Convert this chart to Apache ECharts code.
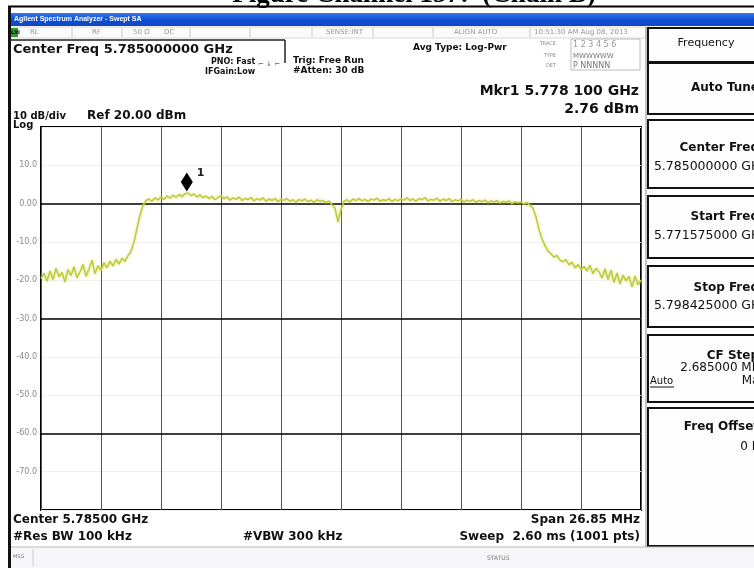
<!DOCTYPE html>
<html>
<head>
<meta charset="utf-8">
<script src="https://cdn.jsdelivr.net/npm/echarts@6/dist/echarts.min.js"></script>
<style>
html,body{margin:0;padding:0;background:#fff;}
#chart{width:754px;height:568px;}
</style>
</head>
<body>
<div id="chart"></div>
<script>
// ---- instrument settings ----
const centerMHz = 5785.0;
const spanMHz = 26.85;
const refLevel = 20;
const bottomLevel = -80;
const markerFreqMHz = 5778.1;
const markerDbm = 2.76;

// ---- y tick labels (dBm) ----
const yTickValues = [10, 0, -10, -20, -30, -40, -50, -60, -70];
const yTickLabels = ['10.0', '0.00', '-10.0', '-20.0', '-30.0', '-40.0', '-50.0', '-60.0', '-70.0'];
const darkGridLevels = [0, -30, -60];

// ---- trace values (dBm), left to right ----
const leftNoise = [-19.5, -18.2, -20.3, -17.6, -19.8, -16.9, -19.1, -18.0, -20.5, -17.2,
                   -18.8, -16.5, -19.4, -17.8, -15.9, -19.0, -17.1, -14.8, -18.3, -16.2,
                   -17.5, -15.4, -16.8, -15.0, -16.3, -14.6, -15.8, -14.2, -15.1, -13.6];
const riseEdge = [-12.5, -10.0, -6.5, -3.0, -0.5, 0.8];
const flatLow = [1.2, 0.6, 1.5, 0.9, 1.8, 1.1, 2.0, 1.4, 2.2, 1.6,
                 2.4, 1.8, 2.6, 2.76, 2.1, 2.5, 1.7, 2.3, 1.5, 2.0,
                 1.3, 1.9, 1.0, 1.6, 2.1, 1.2, 1.8, 0.9, 1.5, 1.1,
                 1.7, 0.8, 1.4, 1.0, 1.6, 0.7, 1.3, 0.9, 1.5, 0.6,
                 1.2, 0.8, 1.4, 0.5, 1.1, 0.9, 1.3, 0.6, 1.0, 0.4,
                 1.1, 0.7, 1.2, 0.5, 0.9, 0.3, 1.0, 0.6, 0.8, 0.2,
                 0.7, -0.3];
const centerNotch = [-1.2, -4.8, -1.5];
const flatHigh = [0.6, 1.0, 0.4, 1.2, 0.8, 1.3, 0.7, 1.1, 0.5, 1.2,
                  0.9, 1.4, 0.6, 1.0, 0.8, 1.3, 0.5, 1.1, 0.7, 1.2,
                  0.9, 1.5, 0.8, 1.2, 0.6, 1.3, 1.0, 1.6, 0.7, 1.1,
                  0.9, 1.4, 0.6, 1.2, 0.8, 1.3, 0.5, 1.0, 0.7, 1.1,
                  0.4, 0.9, 0.6, 1.0, 0.3, 0.8, 0.5, 0.9, 0.2, 0.7,
                  0.4, 0.8, 0.1, 0.6, 0.3, 0.7, 0.0, 0.5, 0.2, 0.4,
                  -0.1, 0.3, -0.4];
const fallEdge = [-1.2, -3.5, -6.8, -9.2, -11.0, -12.4, -13.1, -14.0, -13.5, -14.8, -15.2, -14.6];
const rightNoise = [-16.0, -15.3, -16.8, -15.9, -17.2, -16.4, -17.6, -16.1, -18.3, -16.9,
                    -17.8, -19.5, -17.0, -19.8, -17.4, -20.6, -18.1, -21.0, -18.7, -20.2,
                    -19.0, -21.8, -18.9, -21.2, -20.0];

const traceDbm = [].concat(leftNoise, riseEdge, flatLow, centerNotch, flatHigh, fallEdge, rightNoise);
const nPts = traceDbm.length;
// x = offset from center frequency in MHz (sweep points evenly spread over the span)
const traceData = traceDbm.map((v, i) => [-spanMHz / 2 + i * spanMHz / (nPts - 1), v]);

const FONT = '"DejaVu Sans"';
function txt(text, x, y, size, opts) {
  opts = opts || {};
  return {
    type: 'text', silent: true, z: 100,
    style: {
      text: text, x: x, y: y,
      font: (opts.weight || 'bold') + ' ' + size + 'px ' + (opts.family || FONT),
      fill: opts.color || '#111',
      align: opts.align || 'left',
      verticalAlign: 'middle'
    }
  };
}
function rect(x, y, w, h, fill, stroke, lw) {
  return { type: 'rect', silent: true, z: 90, shape: { x: x, y: y, width: w, height: h },
           style: { fill: fill || 'none', stroke: stroke || 'none', lineWidth: lw || 1 } };
}
function line(x1, y1, x2, y2, stroke, lw) {
  return { type: 'line', silent: true, z: 95, shape: { x1: x1, y1: y1, x2: x2, y2: y2 },
           style: { stroke: stroke, lineWidth: lw || 1 } };
}

const chart = echarts.init(document.getElementById('chart'), null, { renderer: 'canvas' });

const graphics = [];
// document caption (cut off at the top)
graphics.push(txt('Figure Channel 157:  (Chain B)', 414, -5, 27, { family: '"Liberation Serif"', color: '#000', align: 'center' }));
graphics.push(line(8, 6.5, 754, 6.5, '#000', 2));
graphics.push(line(9.5, 6, 9.5, 568, '#111', 3));
// window title bar
graphics.push({
  type: 'rect', silent: true, z: 90, shape: { x: 11, y: 13, width: 743, height: 13 },
  style: { fill: new echarts.graphic.LinearGradient(0, 0, 0, 1, [
    { offset: 0, color: '#3a78ee' }, { offset: 0.5, color: '#0d4fd6' }, { offset: 1, color: '#1046c0' }]) }
});
graphics.push(txt('Agilent Spectrum Analyzer - Swept SA', 14, 19.5, 7, { family: '"Liberation Sans"', color: '#fff' }));
// status row
graphics.push(rect(11, 27, 635, 11, '#fbfbfb', '#d8d8d8', 1));
graphics.push(rect(11, 28, 7, 9, '#2f9a2f'));
graphics.push(txt('LXI', 11, 32.5, 5, { color: '#000' }));
[72, 122, 190, 250, 312, 373, 433, 530].forEach(x => graphics.push(line(x, 28, x, 37, '#c8c8c8', 1)));
graphics.push(txt('RL', 30, 32.5, 7, { weight: 'normal', color: '#999' }));
graphics.push(txt('RF', 92, 32.5, 7, { weight: 'normal', color: '#999' }));
graphics.push(txt('50 Ω', 133, 32.5, 7, { weight: 'normal', color: '#999' }));
graphics.push(txt('DC', 164, 32.5, 7, { weight: 'normal', color: '#999' }));
graphics.push(txt('SENSE:INT', 326, 32.5, 7, { weight: 'normal', color: '#999' }));
graphics.push(txt('ALIGN AUTO', 454, 32.5, 7, { weight: 'normal', color: '#999' }));
graphics.push(txt('10:51:30 AM Aug 08, 2013', 534, 32.5, 7, { weight: 'normal', color: '#999' }));
// center freq frame
graphics.push(line(10, 40, 285, 40, '#222', 1.5));
graphics.push(line(285, 40, 285, 63, '#222', 1.5));
graphics.push(txt('Center Freq 5.785000000 GHz', 13, 50, 13));
graphics.push(txt('PNO: Fast', 211, 62, 8));
graphics.push(txt('IFGain:Low', 205, 72, 8));
graphics.push(txt('⌐ ↓ ⌐', 258, 64, 7, { weight: 'normal', color: '#666' }));
graphics.push(txt('Trig: Free Run', 293, 61, 9));
graphics.push(txt('#Atten: 30 dB', 293, 71, 9));
graphics.push(txt('Avg Type: Log-Pwr', 413, 48, 9));
graphics.push(txt('TRACE', 556, 44, 5, { weight: 'normal', color: '#888', align: 'right' }));
graphics.push(txt('1 2 3 4 5 6', 573, 45, 8, { weight: 'normal', color: '#999' }));
graphics.push(txt('TYPE', 556, 56, 5, { weight: 'normal', color: '#888', align: 'right' }));
graphics.push(txt('MWWWWW', 573, 56, 7, { weight: 'normal', color: '#777' }));
graphics.push(txt('DET', 556, 66, 5, { weight: 'normal', color: '#888', align: 'right' }));
graphics.push(txt('P NNNNN', 573, 66, 8, { weight: 'normal', color: '#777' }));
graphics.push(rect(571, 39, 69, 31, 'none', '#bbb', 1));
graphics.push(txt('Mkr1 5.778 100 GHz', 639, 91, 14, { align: 'right' }));
graphics.push(txt('2.76 dBm', 639, 109, 14, { align: 'right' }));
graphics.push(txt('10 dB/div', 13, 116, 10));
graphics.push(txt('Ref 20.00 dBm', 87, 116, 12));
graphics.push(txt('Log', 13, 125, 10));
// bottom annotations
graphics.push(txt('Center 5.78500 GHz', 13, 520, 12));
graphics.push(txt('#Res BW 100 kHz', 13, 537, 12));
graphics.push(txt('#VBW 300 kHz', 243, 537, 12));
graphics.push(txt('Span 26.85 MHz', 640, 520, 12, { align: 'right' }));
graphics.push(txt('Sweep  2.60 ms (1001 pts)', 640, 537, 12, { align: 'right' }));
// bottom status bar
graphics.push(rect(11, 547, 743, 21, '#f6f6f8', 'none'));
graphics.push(line(11, 547, 754, 547, '#bbb', 1));
graphics.push(line(33, 549, 33, 566, '#ccc', 1));
graphics.push(txt('MSG', 13, 557, 5, { weight: 'normal', color: '#777' }));
graphics.push(txt('STATUS', 487, 558, 6, { weight: 'normal', color: '#777' }));
// softkey panel
graphics.push(line(646, 27, 646, 547, '#888', 1));
function softkey(y, h) { graphics.push(rect(648, y, 112, h, '#fdfdfd', '#111', 2)); }
softkey(28, 34);
softkey(63, 51);
softkey(120, 68);
softkey(196, 62);
softkey(266, 61);
softkey(335, 67);
softkey(408, 138);
graphics.push(txt('Frequency', 706, 43, 11, { weight: 'normal', align: 'center' }));
graphics.push(txt('Auto Tune', 759, 88, 12, { align: 'right' }));
graphics.push(txt('Center Freq', 759, 148, 12, { align: 'right' }));
graphics.push(txt('5.785000000 GHz', 767, 167, 12.5, { weight: 'normal', align: 'right' }));
graphics.push(txt('Start Freq', 759, 217, 12, { align: 'right' }));
graphics.push(txt('5.771575000 GHz', 767, 236, 12.5, { weight: 'normal', align: 'right' }));
graphics.push(txt('Stop Freq', 759, 288, 12, { align: 'right' }));
graphics.push(txt('5.798425000 GHz', 767, 306, 12.5, { weight: 'normal', align: 'right' }));
graphics.push(txt('CF Step', 759, 356, 12, { align: 'right' }));
graphics.push(txt('2.685000 MHz', 767, 368, 12, { weight: 'normal', align: 'right' }));
graphics.push(txt('Auto', 650, 381, 10, { weight: 'normal' }));
graphics.push(line(650, 387, 674, 387, '#111', 1));
graphics.push(txt('Man', 767, 381, 12, { weight: 'normal', align: 'right' }));
graphics.push(txt('Freq Offset', 759, 427, 12, { align: 'right' }));
graphics.push(txt('0 Hz', 767, 447, 12, { weight: 'normal', align: 'right' }));

const option = {
  animation: false,
  backgroundColor: '#ffffff',
  grid: { left: 41, top: 127, width: 600, height: 383, show: true, backgroundColor: '#ffffff',
          borderColor: '#000', borderWidth: 2 },
  xAxis: {
    type: 'value', min: -spanMHz / 2, max: spanMHz / 2, interval: spanMHz / 10,
    axisLine: { show: false }, axisTick: { show: false }, axisLabel: { show: false },
    splitLine: { show: true, lineStyle: { color: '#555', width: 1 } }
  },
  yAxis: {
    type: 'value', min: bottomLevel, max: refLevel, interval: 10,
    axisLine: { show: false }, axisTick: { show: false },
    axisLabel: {
      margin: 4, fontSize: 8, color: '#8a8a8a', fontFamily: 'DejaVu Sans',
      formatter: v => { const k = yTickValues.indexOf(v); return k >= 0 ? yTickLabels[k] : ''; }
    },
    splitLine: { show: true, lineStyle: { color: '#f0f0f0', width: 1 } }
  },
  series: [
    {
      type: 'line', data: [], z: 1, silent: true,
      markLine: {
        silent: true, symbol: 'none', animation: false,
        label: { show: false },
        lineStyle: { color: '#000', type: 'solid', width: 1.5 },
        data: darkGridLevels.map(v => ({ yAxis: v }))
      }
    },
    {
      type: 'line', data: traceData, z: 5, showSymbol: false, silent: true,
      lineStyle: { color: '#bfcb36', width: 1.5, shadowColor: 'rgba(200,212,80,0.7)', shadowBlur: 3 },
      markPoint: {
        silent: true, animation: false,
        symbol: 'diamond', symbolSize: [12, 19], symbolOffset: [0, -11],
        itemStyle: { color: '#000' },
        label: { show: true, formatter: '1', position: 'right', offset: [-1, -9],
                 color: '#222', fontSize: 11, fontWeight: 'bold', fontFamily: 'DejaVu Sans' },
        data: [{ coord: [markerFreqMHz - centerMHz, markerDbm] }]
      }
    }
  ],
  graphic: graphics
};
chart.setOption(option);
</script>
</body>
</html>
